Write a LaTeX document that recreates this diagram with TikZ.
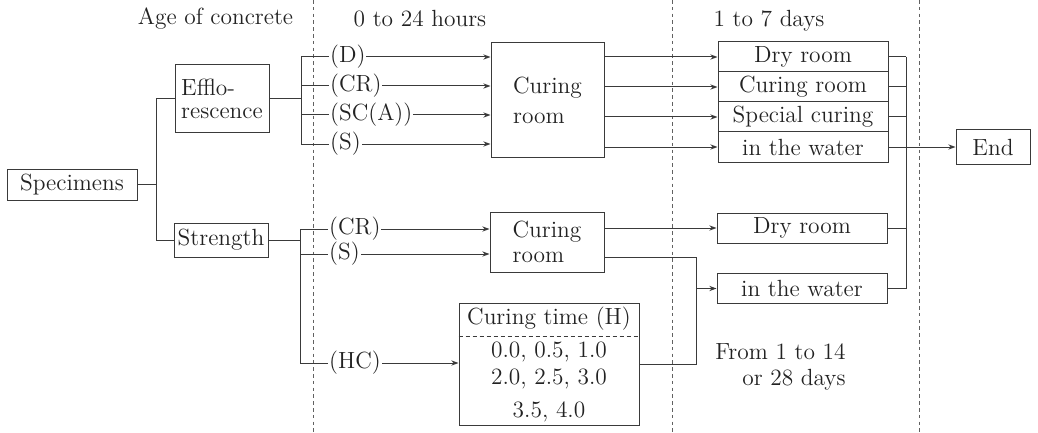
\documentclass[tikz,border=0pt]{standalone}
\usetikzlibrary{arrows.meta}
\definecolor{ink}{HTML}{3A3A3A}
\definecolor{tink}{HTML}{222222}
\begin{document}
\begin{tikzpicture}[x=0.5pt,y=-0.5pt, font=\fontsize{11.7}{13}\selectfont,
  line/.style={draw=ink, line width=0.5pt},
  box/.style={draw=ink, line width=0.5pt, inner sep=0pt, text=tink},
  arr/.style={line, -{Stealth[length=3.6pt,width=2.6pt]}},
  lab/.style={fill=white, inner sep=0.4pt, anchor=west, text=tink},
  sepline/.style={draw=ink!80, line width=0.45pt, dash pattern=on 1.8pt off 1.6pt},
  txt/.style={text=tink, inner sep=0pt}]
\useasboundingbox (0,0) rectangle (1038,433);
\fill[white] (0,0) rectangle (1038,433);

% dashed period separators
\coordinate (d1t) at (313,0);   \coordinate (d1b) at (313,433);
\coordinate (d2t) at (672,0);   \coordinate (d2b) at (672,433);
\coordinate (d3t) at (919,0);   \coordinate (d3b) at (919,433);
\draw[sepline] (d1t) -- (d1b);
\draw[sepline] (d2t) -- (d2b);
\draw[sepline] (d3t) -- (d3b);

% headers
\node[txt] (h1) at (215.5,19) {Age of concrete};
\node[txt] (h2) at (420,19) {0 to 24 hours};
\node[txt] (h3) at (769,21) {1 to 7 days};

% left boxes
\node[box, minimum width=65pt, minimum height=15.5pt] (spec) at (72,184.5) {Specimens};
\node[box, minimum width=47pt, minimum height=34pt, align=left,
      font=\fontsize{11.7}{11.8}\selectfont] (eff) at (222,99) {Efflo-\\rescence};
\node[box, minimum width=47pt, minimum height=17pt] (str) at (221,240) {Strength};

% curing rooms (0-24 h)
\node[box, minimum width=56.5pt, minimum height=57pt, align=left,
      font=\fontsize{11.7}{15}\selectfont] (cr1) at (547.5,100) {Curing\\room};
\node[box, minimum width=57pt, minimum height=30pt, align=left,
      font=\fontsize{11.7}{12.2}\selectfont] (cr2) at (547,242) {Curing\\room};

% curing time box
\node[box, minimum width=90pt, minimum height=61pt] (ct) at (549,364) {};
\node[txt] (ct1) at (549,319) {Curing time (H)};
\node[txt] (ct2) at (549,352) {0.0, 0.5, 1.0};
\node[txt] (ct3) at (549,379) {2.0, 2.5, 3.0};
\node[txt] (ct4) at (549,412) {3.5, 4.0};
\draw[line, dash pattern=on 2pt off 1.5pt] (ct.west |- 0,336) -- (ct.east |- 0,336);

% 1-7 day rows
\node[box, minimum width=85pt, minimum height=15pt] (r1) at (803,57) {Dry room};
\node[box, minimum width=85pt, minimum height=15pt] (r2) at (803,87) {Curing room};
\node[box, minimum width=85pt, minimum height=15pt] (r3) at (803,117) {Special curing};
\node[box, minimum width=85pt, minimum height=15pt] (r4) at (803,147) {in the water};

\node[box, minimum width=85pt, minimum height=15pt] (dl) at (802,228) {Dry room};
\node[box, minimum width=85pt, minimum height=15pt] (wl) at (802,288.5) {in the water};

\node[box, minimum width=37pt, minimum height=17pt] (end) at (993,147) {End};

\node[txt, align=right] (from) at (780.5,366.5) {From 1 to 14\\or 28 days};

% tree from specimens
\coordinate (sj) at (156,184.5);
\draw[line] (spec.east) -- (sj);
\draw[line] (eff.west) -| (sj);
\draw[line] (str.west) -| (sj);

% efflorescence branches
\coordinate (ej) at (301,99);
\coordinate (eb1) at (301,57);
\coordinate (eb2) at (301,86);
\coordinate (eb3) at (301,115);
\coordinate (eb4) at (301,144);
\draw[line] (eff.east) -- (ej);
\draw[line] (eb1) -- (eb4);
\draw[arr] (eb1) -- (eb1 -| cr1.west);
\draw[arr] (eb2) -- (eb2 -| cr1.west);
\draw[arr] (eb3) -- (eb3 -| cr1.west);
\draw[arr] (eb4) -- (eb4 -| cr1.west);
\node[lab] (lD) at (329,57) {(D)};
\node[lab] (lCR) at (329,86) {(CR)};
\node[lab] (lSC) at (329,115) {(SC(A))};
\node[lab] (lS) at (329,144) {(S)};

% strength branches
\coordinate (sj2) at (300,240);
\coordinate (sb1) at (300,229);
\coordinate (sb2) at (300,254);
\coordinate (sb3) at (300,363);
\draw[line] (str.east) -- (sj2);
\draw[line] (sb1) -- (sb3);
\draw[arr] (sb1) -- (sb1 -| cr2.west);
\draw[arr] (sb2) -- (sb2 -| cr2.west);
\draw[arr] (sb3) -- (sb3 -| ct.west);
\node[lab] (lCR2) at (328,229) {(CR)};
\node[lab] (lS2) at (328,254) {(S)};
\node[lab] (lHC) at (328,363) {(HC)};

% curing room (efflorescence) to rows
\draw[arr] (cr1.east |- r1) -- (r1.west);
\draw[arr] (cr1.east |- r2) -- (r2.west);
\draw[arr] (cr1.east |- r3) -- (r3.west);
\draw[arr] (cr1.east |- r4) -- (r4.west);

% strength curing to later storage
\draw[arr] (cr2.east |- dl) -- (dl.west);
\coordinate (wj) at (696,257);
\draw[line] (cr2.east |- wj) -- (wj) -- (wj |- ct.east) -- (ct.east);
\draw[arr] (wj |- wl) -- (wl.west);

% collecting bus to End
\coordinate (rbx) at (906,0);
\draw[line] (r1.east) -- (r1.east -| rbx);
\draw[line] (r2.east) -- (r2.east -| rbx);
\draw[line] (r3.east) -- (r3.east -| rbx);
\draw[line] (r4.east) -- (r4.east -| rbx);
\draw[line] (dl.east) -- (dl.east -| rbx);
\draw[line] (wl.east) -- (wl.east -| rbx);
\draw[line] (r1.east -| rbx) -- (wl.east -| rbx);
\draw[arr] (r4.east -| rbx) -- (end.west);
\end{tikzpicture}
\end{document}
